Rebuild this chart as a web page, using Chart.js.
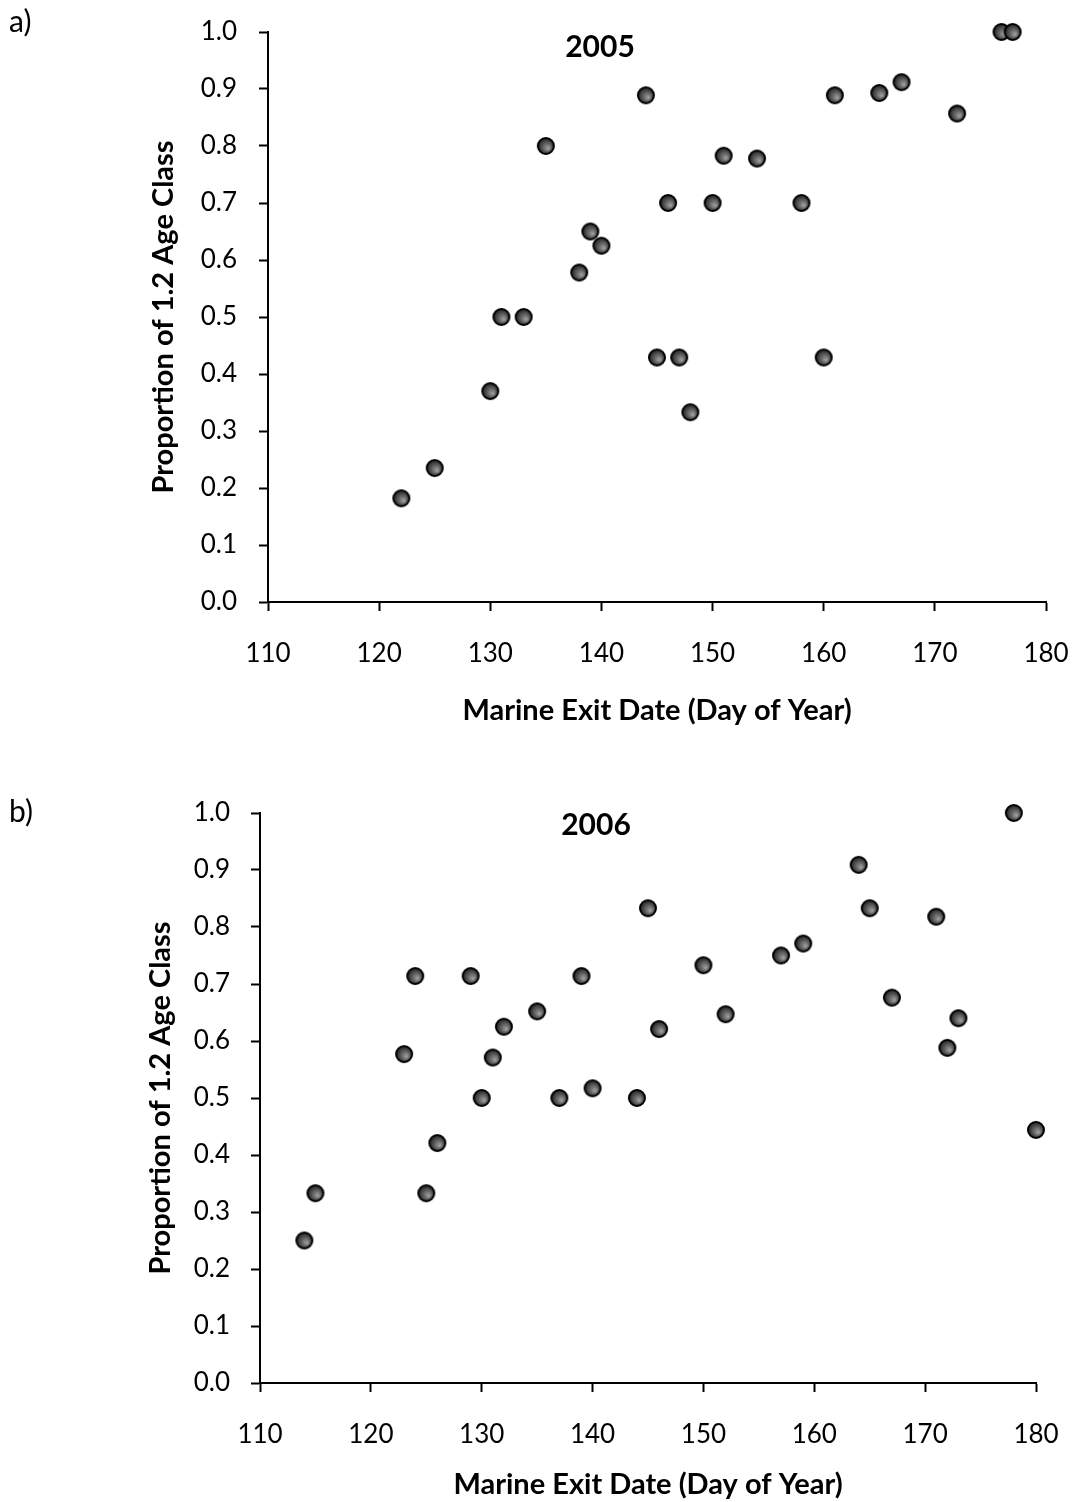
<!DOCTYPE html>
<html>
<head>
<meta charset="utf-8">
<script src="https://cdn.jsdelivr.net/npm/chart.js@4"></script>
<style>
    body { margin: 0; background: #fff; overflow: hidden; }
    .panel { position: absolute; left: 0; width: 1078px; }
    #panelA { top: 0; height: 750px; }
    #panelB { top: 750px; height: 752px; }
</style>
</head>
<body>
<div class="panel" id="panelA"><canvas id="chartA"></canvas></div>
<div class="panel" id="panelB"><canvas id="chartB"></canvas></div>
<script>
// 2005 run: exit day vs proportion of 1.2 age class
const days2005 = [122, 125, 130, 131, 133, 135, 138, 139, 140, 144, 145, 146, 147, 148,
    150, 151, 154, 158, 160, 161, 165, 167, 172, 176, 177];
const prop2005 = [0.182, 0.235, 0.370, 0.500, 0.500, 0.800, 0.578, 0.650, 0.625, 0.889, 0.429, 0.700, 0.429, 0.333,
    0.700, 0.783, 0.778, 0.700, 0.429, 0.889, 0.893, 0.912, 0.857, 1.000, 1.000];

// 2006 run
const days2006 = [114, 115, 123, 124, 125, 126, 129, 130, 131, 132, 135, 137, 139, 140, 144,
    145, 146, 150, 152, 157, 159, 164, 165, 167, 171, 172, 173, 178, 180];
const prop2006 = [0.250, 0.333, 0.577, 0.714, 0.333, 0.421, 0.714, 0.500, 0.571, 0.625, 0.652, 0.500, 0.714, 0.517, 0.500,
    0.833, 0.621, 0.733, 0.647, 0.750, 0.771, 0.909, 0.833, 0.676, 0.818, 0.588, 0.640, 1.000, 0.444];

const yTickLabels = ['0.0', '0.1', '0.2', '0.3', '0.4', '0.5', '0.6', '0.7', '0.8', '0.9', '1.0'];
const xTickLabels = ['110', '120', '130', '140', '150', '160', '170', '180'];

const FONT = 'Lato, "Open Sans", sans-serif';

// shaded ball marker, dark top-left and lighter bottom-right
function makeBall(r) {
    const size = Math.ceil(r * 2 + 2);
    const c = document.createElement('canvas');
    c.width = size;
    c.height = size;
    const g = c.getContext('2d');
    const cx = size / 2;
    const grad = g.createRadialGradient(cx + r * 0.3, cx + r * 0.3, 0, cx, cx, r);
    grad.addColorStop(0, '#a6a6a6');
    grad.addColorStop(0.5, '#5c5c5c');
    grad.addColorStop(1, '#151515');
    g.beginPath();
    g.arc(cx, cx, r - 1, 0, Math.PI * 2);
    g.fillStyle = grad;
    g.fill();
    g.lineWidth = 2;
    g.strokeStyle = '#000';
    g.stroke();
    return c;
}

const ball = makeBall(9);

const labelsPlugin = {
    id: 'panelLabels',
    afterDraw(chart, args, opts) {
        const ctx = chart.ctx;
        ctx.save();
        ctx.fillStyle = '#000';
        ctx.textBaseline = 'middle';
        ctx.font = '30px ' + FONT;
        ctx.textAlign = 'left';
        ctx.fillText(opts.panel, opts.panelX, opts.panelY);
        ctx.font = 'bold 30px ' + FONT;
        ctx.textAlign = 'center';
        ctx.fillText(opts.year, opts.yearX, opts.yearY);
        ctx.restore();
    }
};

function buildChart(canvasId, xs, ys, cfg) {
    const points = xs.map((x, i) => ({ x: x, y: ys[i] }));
    return new Chart(document.getElementById(canvasId), {
        type: 'scatter',
        data: {
            datasets: [{
                data: points,
                pointStyle: ball,
                pointRadius: 9,
                pointHoverRadius: 9,
                clip: false
            }]
        },
        options: {
            responsive: true,
            maintainAspectRatio: false,
            animation: false,
            events: [],
            layout: {
                autoPadding: false,
                padding: { top: cfg.padTop, right: cfg.padRight, left: 0, bottom: 0 }
            },
            plugins: {
                legend: { display: false },
                tooltip: { enabled: false },
                panelLabels: cfg.labels
            },
            scales: {
                x: {
                    type: 'linear',
                    min: 110,
                    max: 180,
                    afterFit: (s) => {
                        s.height = cfg.xHeight;
                        s.paddingLeft = 0;
                        s.paddingRight = 0;
                    },
                    afterBuildTicks: (s) => {
                        s.ticks = xTickLabels.map(v => ({ value: Number(v) }));
                    },
                    border: { display: true, color: '#000', width: 2 },
                    grid: { drawOnChartArea: false, tickLength: 9, tickWidth: 2, tickColor: '#000' },
                    ticks: {
                        color: '#000',
                        font: { family: FONT, size: 26 },
                        padding: 27,
                        maxRotation: 0,
                        callback: (v) => String(v)
                    },
                    title: {
                        display: true,
                        text: 'Marine Exit Date (Day of Year)',
                        color: '#000',
                        font: { family: FONT, size: 29, weight: 'bold' },
                        padding: { top: 0, bottom: cfg.xTitlePad }
                    }
                },
                y: {
                    min: 0,
                    max: 1,
                    afterFit: (s) => {
                        s.width = cfg.yWidth;
                        s.paddingTop = 0;
                        s.paddingBottom = 0;
                    },
                    afterBuildTicks: (s) => {
                        s.ticks = yTickLabels.map(v => ({ value: Number(v) }));
                    },
                    border: { display: true, color: '#000', width: 2 },
                    grid: { drawOnChartArea: false, tickLength: 9, tickWidth: 2, tickColor: '#000' },
                    ticks: {
                        color: '#000',
                        font: { family: FONT, size: 26 },
                        padding: cfg.yTickPad,
                        callback: (v) => Number(v).toFixed(1)
                    },
                    title: {
                        display: true,
                        text: 'Proportion of 1.2 Age Class',
                        color: '#000',
                        font: { family: FONT, size: 29, weight: 'bold' },
                        padding: { top: cfg.yTitlePad, bottom: 0 }
                    }
                }
            }
        },
        plugins: [labelsPlugin]
    });
}

buildChart('chartA', days2005, prop2005, {
    padTop: 32, padRight: 32, xHeight: 148, yWidth: 268,
    xTitlePad: 22, yTitlePad: 146, yTickPad: 22,
    labels: { panel: 'a)', panelX: 9, panelY: 22, year: '2005', yearX: 600, yearY: 47 }
});

buildChart('chartB', days2006, prop2006, {
    padTop: 63, padRight: 42, xHeight: 119, yWidth: 260,
    xTitlePad: 0, yTitlePad: 143, yTickPad: 21,
    labels: { panel: 'b)', panelX: 9, panelY: 62, year: '2006', yearX: 596, yearY: 75 }
});
</script>
</body>
</html>
